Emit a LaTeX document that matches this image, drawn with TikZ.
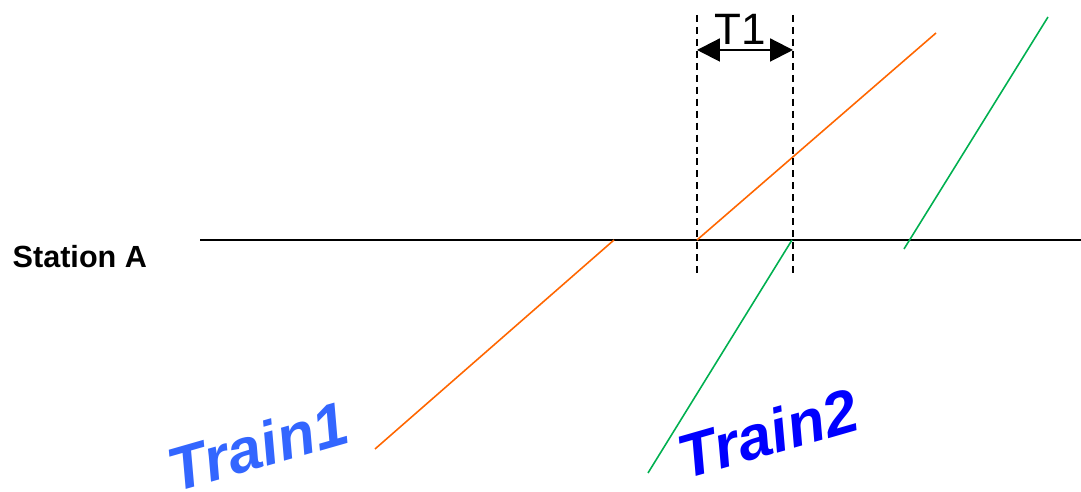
\documentclass[tikz,border=0pt]{standalone}
\usepackage{fontspec}
\setmainfont{Liberation Sans}
\usepackage{tikz}
\usetikzlibrary{arrows.meta, positioning, calc}
\usepackage{xcolor}
\definecolor{trainorange}{RGB}{255,102,0}
\definecolor{traingreen}{RGB}{0,176,80}
\definecolor{labelblue}{RGB}{51,102,255}
\definecolor{deepblue}{RGB}{0,0,255}

\begin{document}
\begin{tikzpicture}[x=0.01cm, y=-0.01cm]
  \tikzset{
    path/.style={line width=0.45pt},
    guide/.style={line width=0.6pt, dash pattern=on 2pt off 1.4pt},
    trainlabel/.style={font=\fontsize{17.5}{20}\selectfont\bfseries\itshape, rotate=16, inner sep=0pt}
  }
  \useasboundingbox (0,0) rectangle (1081,492);
  % Station axis
  \coordinate (axisL) at (200,240);
  \coordinate (axisR) at (1081,240);
  \draw[line width=0.6pt] (axisL) -- (axisR);
  \node[font=\fontsize{8.7}{11}\selectfont\bfseries, anchor=west, inner sep=0pt] (stationA) at (12,257) {Station A};
  % Train paths (orange)
  \coordinate (o1s) at (375,449);
  \coordinate (o1e) at (614,240);
  \coordinate (o2s) at (697,240);
  \coordinate (o2e) at (936,33);
  \draw[path, trainorange] (o1s) -- (o1e);
  \draw[path, trainorange] (o2s) -- (o2e);
  % Train paths (green)
  \coordinate (g1s) at (648,473);
  \coordinate (g1e) at (792,240);
  \coordinate (g2s) at (904,249);
  \coordinate (g2e) at (1048,17);
  \draw[path, traingreen] (g1s) -- (g1e);
  \draw[path, traingreen] (g2s) -- (g2e);
  % Headway T1
  \coordinate (d1t) at (697,15);
  \coordinate (d1b) at (697,275);
  \coordinate (d2t) at (793,15);
  \coordinate (d2b) at (793,275);
  \draw[guide] (d1t) -- (d1b);
  \draw[guide] (d2t) -- (d2b);
  \coordinate (hwL) at (697,50);
  \coordinate (hwR) at (793,50);
  \draw[{Triangle[length=6.5pt,width=6.5pt]}-{Triangle[length=6.5pt,width=6.5pt]}, line width=0.6pt] (hwL) -- (hwR);
  \node[font=\fontsize{12.5}{14}\selectfont, inner sep=0pt] (tone) at (740,29) {T1};
  % Labels
  \node[trainlabel, labelblue] (train1) at (258,446) {Train1};
  \node[trainlabel, deepblue] (train2) at (768,433) {Train2};
\end{tikzpicture}
\end{document}
